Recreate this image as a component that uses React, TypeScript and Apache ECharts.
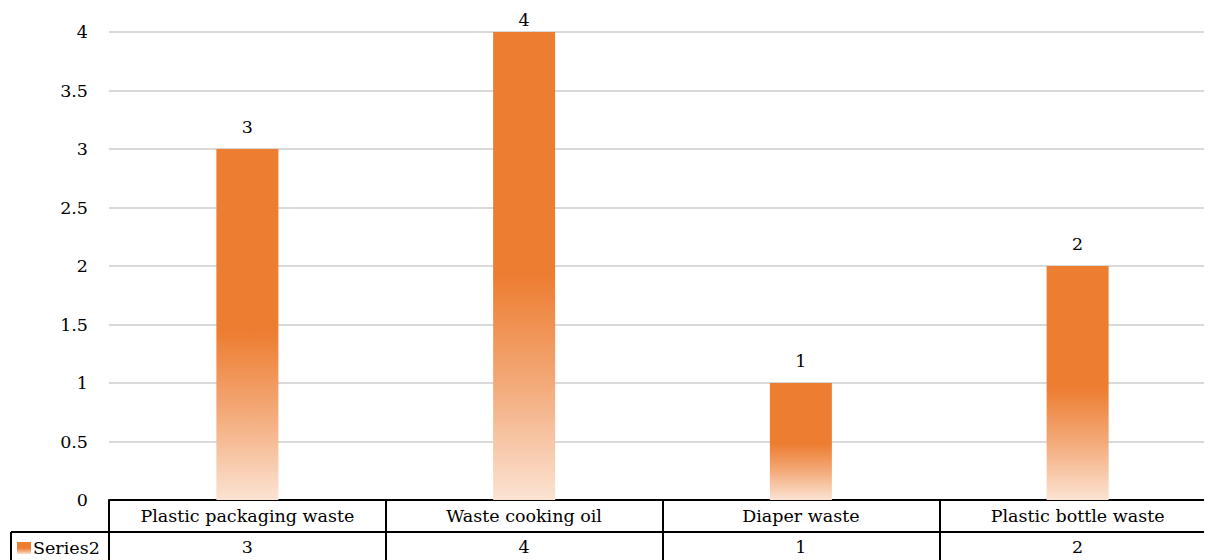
import React, { useEffect, useRef } from "react";
import * as echarts from "echarts";

const categories = ["Plastic packaging waste", "Waste cooking oil", "Diaper waste", "Plastic bottle waste"];
const series2 = [3, 4, 1, 2];
const yTicks = { min: 0, max: 4, interval: 0.5 };
const seriesName = "Series2";

const FONT = "DejaVu Serif";
const FS = 17.5;

export default function App() {
  const ref = useRef<HTMLDivElement>(null);
  useEffect(() => {
    const chart = echarts.init(ref.current!, undefined, { renderer: "svg" });
    const grad = new echarts.graphic.LinearGradient(0, 0, 0, 1, [
      { offset: 0, color: "#ED7D31" },
      { offset: 0.52, color: "#ED7D31" },
      { offset: 0.75, color: "#F3A978" },
      { offset: 1, color: "#FBE3D3" },
    ]);
    chart.setOption({
      animation: false,
      textStyle: { fontFamily: FONT },
      grid: { left: 101, right: 4, top: 24, bottom: 60, containLabel: false },
      legend: {
        left: 4,
        top: 526,
        itemWidth: 14,
        itemHeight: 12,
        itemGap: 4,
        icon: "rect",
        textStyle: { fontFamily: FONT, fontSize: FS, color: "#000", padding: [0, 0, 0, -3] },
        data: [seriesName],
      },
      xAxis: [
        {
          type: "category",
          data: categories,
          position: "bottom",
          axisLine: { show: true, lineStyle: { color: "#000", width: 2 } },
          axisTick: { show: true, interval: 0, length: 60, lineStyle: { color: "#000", width: 2 } },
          axisLabel: { interval: 0, fontFamily: FONT, fontSize: FS, color: "#000", margin: 7 },
        },
        {
          type: "category",
          data: series2.map(String),
          position: "bottom",
          offset: 32,
          axisLine: { show: false },
          axisTick: { show: false },
          axisLabel: { interval: 0, fontFamily: FONT, fontSize: FS, color: "#000", margin: 6 },
        },
      ],
      yAxis: {
        type: "value",
        min: yTicks.min,
        max: yTicks.max,
        interval: yTicks.interval,
        axisLine: { show: false },
        axisTick: { show: false },
        axisLabel: { fontFamily: FONT, fontSize: FS, color: "#000", margin: 21 },
        splitLine: { lineStyle: { color: "#D9D9D9", width: 2 } },
      },
      series: [
        {
          name: seriesName,
          type: "bar",
          data: series2.map((v) => (v >= yTicks.max ? { value: v, label: { distance: 3 } } : v)),
          barWidth: 62,
          itemStyle: { color: grad },
          label: { show: true, position: "top", distance: 13, fontFamily: FONT, fontSize: FS, color: "#000" },
        },
      ],
      graphic: [
        { type: "line", shape: { x1: 3, y1: 524, x2: 1212, y2: 524 }, style: { stroke: "#000", lineWidth: 2 } },
        { type: "line", shape: { x1: 3, y1: 524, x2: 3, y2: 560 }, style: { stroke: "#000", lineWidth: 2 } },
      ],
    });
    return () => chart.dispose();
  }, []);
  return (
    <div style={{ width: 1204, height: 552, overflow: "hidden" }}>
      <div ref={ref} style={{ width: 1212, height: 552 }} />
    </div>
  );
}
